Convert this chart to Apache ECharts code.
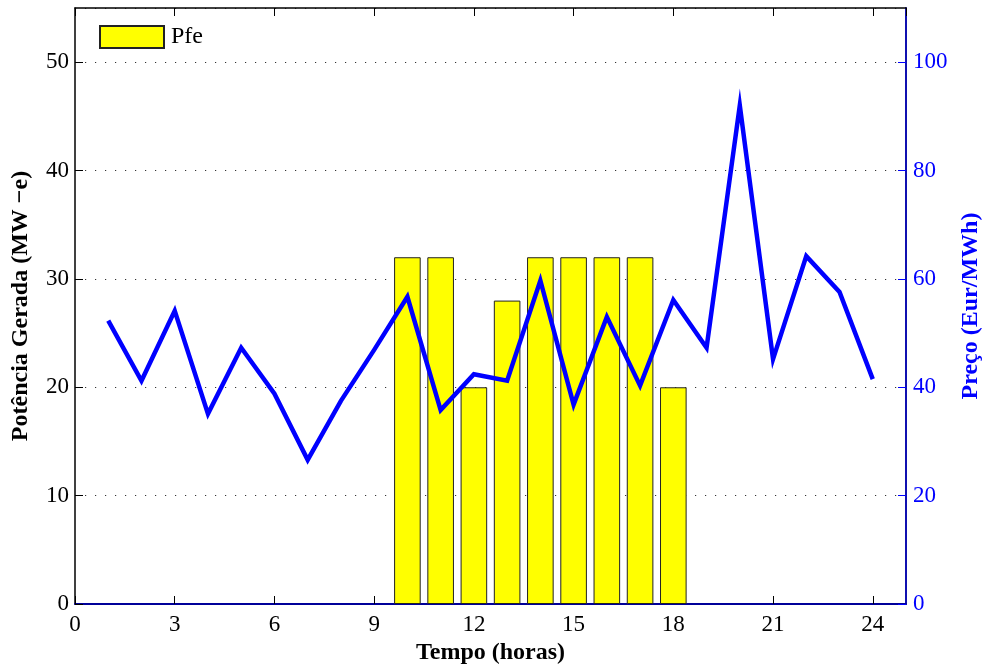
<!DOCTYPE html>
<html>
<head>
<meta charset="utf-8">
<script src="https://cdn.jsdelivr.net/npm/echarts@6/dist/echarts.min.js"></script>
<style>
  html, body { margin: 0; padding: 0; background: #fff; }
  #chart { width: 983px; height: 667px; }
</style>
</head>
<body>
<div id="chart"></div>
<script>
// Hours of the day
const hours = [1, 2, 3, 4, 5, 6, 7, 8, 9, 10, 11, 12, 13, 14, 15, 16, 17, 18, 19, 20, 21, 22, 23, 24];
// Generated power Pfe (MW-e) per hour
const pfe = [0, 0, 0, 0, 0, 0, 0, 0, 0, 32, 32, 20, 28, 32, 32, 32, 32, 20, 0, 0, 0, 0, 0, 0];
// Electricity price (Eur/MWh) per hour
const price = [52.3, 41.2, 54.1, 35.1, 47.3, 38.8, 26.6, 37.5, 46.9, 56.7, 35.8, 42.4, 41.2, 59.7,
               36.8, 53.0, 40.3, 56.1, 47.3, 92.0, 45.2, 64.2, 57.6, 41.5];

const FONT = '"Liberation Serif", "Times New Roman", serif';
const BLUE = '#0000ff';
const TICK_FS = 23;
const NAME_FS = 24;

const barData = hours.map((h, i) => [h, pfe[i]]).filter(d => d[1] > 0);
const lineData = hours.map((h, i) => [h, price[i]]);

const chart = echarts.init(document.getElementById('chart'));
chart.setOption({
  animation: false,
  backgroundColor: '#fff',
  grid: { left: 75, right: 77, top: 8, bottom: 63, containLabel: false, outerBoundsMode: 'none' },
  legend: {
    left: 94, top: 20,
    itemWidth: 64, itemHeight: 22, itemGap: 10,
    textStyle: { fontFamily: FONT, fontSize: NAME_FS, color: '#000', padding: [2, 0, 0, 2] },
    data: [{ name: 'Pfe', icon: 'rect' }]
  },
  xAxis: [
    {
      type: 'value', position: 'bottom', min: 0, max: 25, interval: 3,
      name: 'Tempo (horas)', nameLocation: 'middle', nameGap: 37,
      nameTextStyle: { fontFamily: FONT, fontSize: NAME_FS, fontWeight: 'bold', color: '#000' },
      axisLine: { show: true, onZero: false, lineStyle: { color: '#000099', width: 2 } },
      axisTick: { show: true, inside: true, length: 8, lineStyle: { color: '#000' } },
      axisLabel: { fontFamily: FONT, fontSize: TICK_FS, color: '#000', margin: 9, showMaxLabel: false },
      splitLine: { show: false }
    },
    {
      type: 'value', position: 'top', min: 0, max: 25, interval: 3,
      axisLine: { show: true, onZero: false, lineStyle: { color: '#000', width: 1.5 } },
      axisTick: { show: true, inside: true, length: 8, lineStyle: { color: '#000' } },
      axisLabel: { show: false },
      splitLine: { show: false }
    }
  ],
  yAxis: [
    {
      type: 'value', position: 'left', min: 0, max: 55, interval: 10,
      name: 'Potência Gerada (MW −e)', nameLocation: 'middle', nameGap: 42, nameRotate: 90,
      nameTextStyle: { fontFamily: FONT, fontSize: NAME_FS, fontWeight: 'bold', color: '#000' },
      axisLine: { show: true, onZero: false, lineStyle: { color: '#000', width: 1.5 } },
      axisTick: { show: true, inside: true, length: 8, lineStyle: { color: '#000' } },
      axisLabel: { fontFamily: FONT, fontSize: TICK_FS, color: '#000', margin: 6, showMaxLabel: false },
      splitLine: { show: true, lineStyle: { color: '#333', width: 1, type: [1.2, 8.8] } }
    },
    {
      type: 'value', position: 'right', min: 0, max: 110, interval: 20,
      name: 'Preço (Eur/MWh)', nameLocation: 'middle', nameGap: 52, nameRotate: 90,
      nameTextStyle: { fontFamily: FONT, fontSize: NAME_FS, fontWeight: 'bold', color: BLUE },
      axisLine: { show: true, onZero: false, lineStyle: { color: '#1010b0', width: 2 } },
      axisTick: { show: true, inside: true, length: 8, lineStyle: { color: BLUE } },
      axisLabel: { fontFamily: FONT, fontSize: TICK_FS, color: BLUE, margin: 7, showMaxLabel: false },
      splitLine: { show: false }
    }
  ],
  series: [
    {
      name: 'Pfe', type: 'bar', xAxisIndex: 0, yAxisIndex: 0,
      data: barData, barWidth: 26.6,
      itemStyle: { color: '#ffff00', borderColor: '#222', borderWidth: 1 },
      z: 2
    },
    {
      name: 'Preço', type: 'line', xAxisIndex: 0, yAxisIndex: 1,
      data: lineData, symbol: 'none',
      lineStyle: { color: BLUE, width: 4.5, join: 'miter' },
      z: 3
    }
  ]
});
</script>
</body>
</html>
